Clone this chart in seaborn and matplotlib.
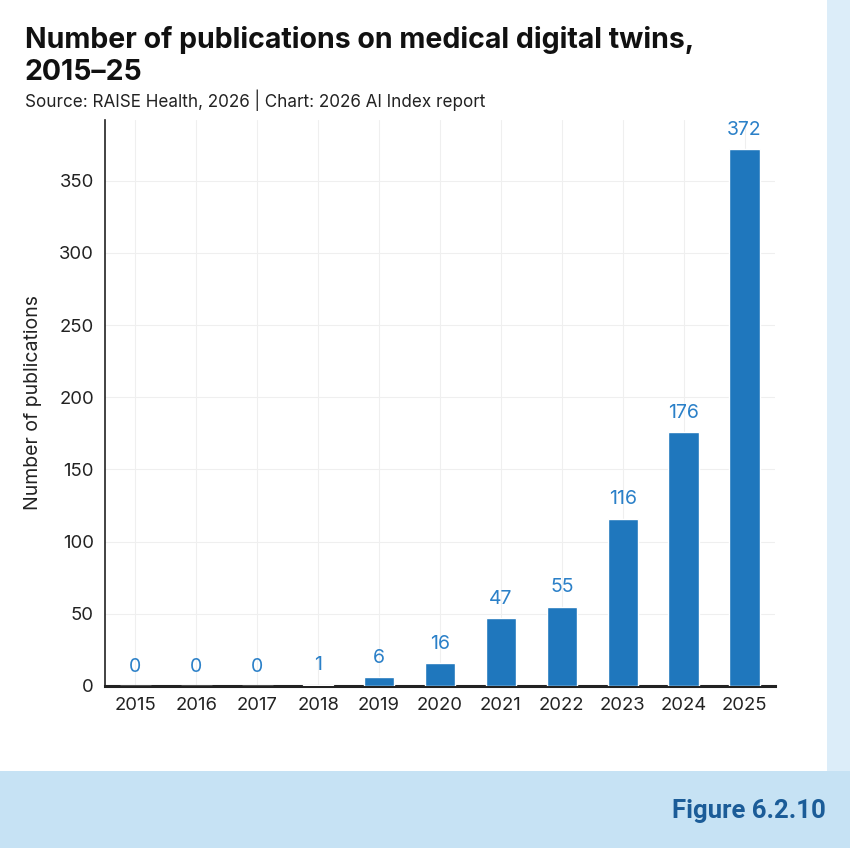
import pandas as pd
import matplotlib.pyplot as plt
import seaborn as sns
from matplotlib.patches import Rectangle

# Data
years = ['2015', '2016', '2017', '2018', '2019', '2020', '2021', '2022', '2023', '2024', '2025']
publications = [0, 0, 0, 1, 6, 16, 47, 55, 116, 176, 372]

df = pd.DataFrame({'year': years, 'publications': publications})

sns.set_style('white')
plt.rcParams['font.family'] = ['Inter', 'DejaVu Sans']

bar_color = '#1f77bd'
label_color = '#2b80c8'

fig = plt.figure(figsize=(8.5, 8.48), dpi=100)
fig.patch.set_facecolor('white')

# background panels (light blue strip on the right and bottom band)
fig.patches.append(Rectangle((827 / 850, 0), 1, 1, transform=fig.transFigure,
                             facecolor='#dcedf9', edgecolor='none', zorder=0))
fig.patches.append(Rectangle((0, 0), 1, 1 - 771 / 848, transform=fig.transFigure,
                             facecolor='#c6e2f4', edgecolor='none', zorder=0))

ax = fig.add_axes([105 / 850, 1 - 686 / 848, 670 / 850, 566 / 848])
ax.set_facecolor('none')

sns.barplot(data=df, x='year', y='publications', color=bar_color, width=0.5,
            saturation=1, ax=ax, zorder=3)

for i, v in enumerate(publications):
    ax.text(i, v + 7, str(v), ha='center', va='bottom', color=label_color, fontsize=14)

ax.set_xlim(-0.5, 10.5)
ax.set_ylim(0, 392)
ax.set_yticks([0, 50, 100, 150, 200, 250, 300, 350])
ax.grid(True, color='#efefef', linewidth=0.8, zorder=0)
ax.set_axisbelow(True)

for s in ['top', 'right']:
    ax.spines[s].set_visible(False)
ax.spines['left'].set_color('#222222')
ax.spines['left'].set_linewidth(1.2)
ax.spines['bottom'].set_color('#222222')
ax.spines['bottom'].set_linewidth(2.2)

ax.tick_params(axis='both', length=0, labelsize=13.3, colors='#222222')
ax.tick_params(axis='x', pad=8)
ax.tick_params(axis='y', pad=8)
ax.set_xlabel('')
ax.set_ylabel('Number of publications', fontsize=14, color='#222222', labelpad=12)

fig.text(25 / 850, 1 - 48 / 848, 'Number of publications on medical digital twins,',
         fontsize=20.5, fontweight='bold', color='#111111', va='baseline')
fig.text(25 / 850, 1 - 80 / 848, '2015–25',
         fontsize=20.5, fontweight='bold', color='#111111', va='baseline')
fig.text(25 / 850, 1 - 107 / 848, 'Source: RAISE Health, 2026 | Chart: 2026 AI Index report',
         fontsize=12.3, color='#222222', va='baseline')
fig.text(826 / 850, 1 - 818 / 848, 'Figure 6.2.10', fontsize=18.5, fontweight='bold',
         color='#1b5c98', ha='right', va='baseline', family=['Roboto', 'DejaVu Sans'])

fig.savefig('out.png', dpi=100)
